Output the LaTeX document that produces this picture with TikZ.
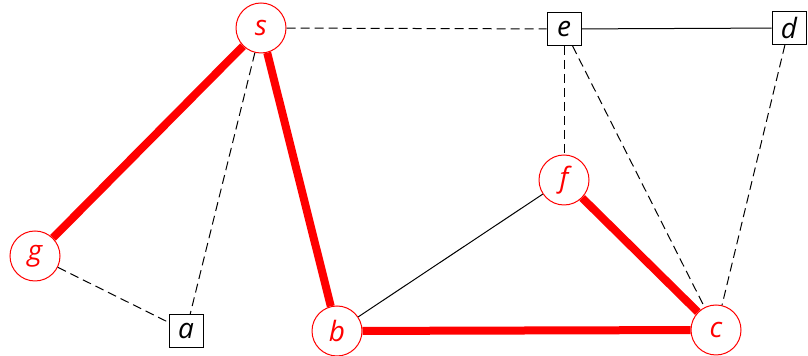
\documentclass[tikz,border=0pt]{standalone}
\usepackage{fontspec}
\setsansfont{Open Sans}
\begin{document}
\begin{tikzpicture}[
    x=0.5pt, y=-0.5pt,
    font=\sffamily\itshape\fontsize{14}{16}\selectfont,
    treenode/.style={circle, draw=red, line width=0.5pt, text=red, fill=white, minimum size=25pt, inner sep=0pt},
    othernode/.style={rectangle, draw=black, line width=0.5pt, fill=white, minimum width=17pt, minimum height=16.5pt, inner sep=0pt},
    treeedge/.style={draw=red, line width=4pt},
    nontree/.style={draw=black, line width=0.5pt, dash pattern=on 4.5pt off 2.5pt},
    plainedge/.style={draw=black, line width=0.5pt}
  ]
    \useasboundingbox (0,0) rectangle (808,356);

    \node[treenode] (s) at (261,28) {s};
    \node[treenode] (g) at (35,256) {g};
    \node[treenode] (b) at (337,331) {b};
    \node[treenode] (c) at (716,330) {c};
    \node[treenode] (f) at (564,180) {f};
    \node[othernode] (a) at (186,331) {a};
    \node[othernode] (e) at (564,29) {e};
    \node[othernode] (d) at (789,28) {d};

    % tree edges
    \draw[treeedge] (s) -- (g);
    \draw[treeedge] (s) -- (b);
    \draw[treeedge] (b) -- (c);
    \draw[treeedge] (f) -- (c);

    % remaining edges
    \draw[nontree] (s) -- (e);
    \draw[nontree] (s) -- (a);
    \draw[nontree] (g) -- (a);
    \draw[nontree] (e) -- (f);
    \draw[nontree] (e) -- (c);
    \draw[nontree] (d) -- (c);
    \draw[plainedge] (e) -- (d);
    \draw[plainedge] (b) -- (f);
  \end{tikzpicture}
\end{document}
